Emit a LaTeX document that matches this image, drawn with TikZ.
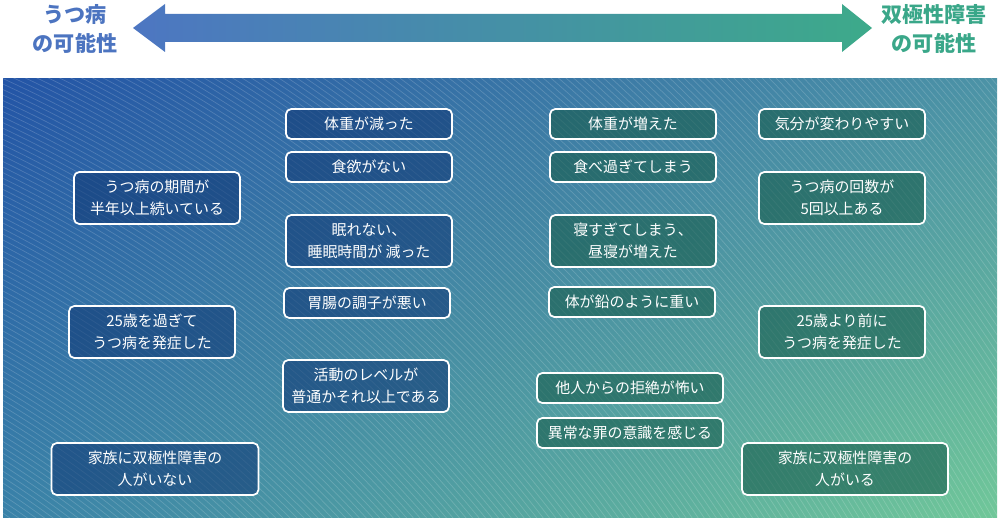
\documentclass[tikz,border=0pt]{standalone}
\usepackage{fontspec}
\newfontfamily\jp{Noto Sans CJK JP}
\usepackage{tikz}
\usetikzlibrary{calc,shadings}

\definecolor{deptext}{HTML}{4C74C0}
\definecolor{biptext}{HTML}{3AA789}
\definecolor{arrL}{HTML}{4D76C2}
\definecolor{arrR}{HTML}{3DAA8A}
\definecolor{panUL}{HTML}{2354A6}
\definecolor{panUR}{HTML}{4C93A6}
\definecolor{panLL}{HTML}{3A82A8}
\definecolor{panLR}{HTML}{70C799}
\definecolor{depfill}{HTML}{123B77}
\definecolor{bipfill}{HTML}{175C4C}

\begin{document}
\begin{tikzpicture}[x=0.02cm,y=-0.02cm,
  sym/.style={draw=white, line width=1pt, rounded corners=3pt, text=white,
    align=center, font=\jp\fontsize{8.5}{12.5}\selectfont,
    minimum width=3.32cm, minimum height=0.6cm,
    fill opacity=.6, text opacity=1, draw opacity=1},
  dep/.style={sym, fill=depfill},
  bip/.style={sym, fill=bipfill},
  tall/.style={minimum height=1.04cm},
  head/.style={align=center, font=\jp\bfseries\fontsize{12}{16}\selectfont}]
\useasboundingbox (0,0) rectangle (1000,520);

% background panel
\shade[upper left=panUL, upper right=panUR, lower left=panLL, lower right=panLR]
  (3,79) rectangle (997,517);
\begin{scope}
\clip (3,79) rectangle (997,517);
\foreach \r in {1080,1085,...,2095}
  \draw[white, opacity=.17, line width=.4pt] (-608,1416) circle[radius=\r];
\end{scope}

% headings and arrow
\node[head, text=deptext] (L) at (75,29) {うつ病\\の可能性};
\node[head, text=biptext] (R) at (934,29) {双極性障害\\の可能性};
\coordinate (lt) at (133,28);
\coordinate (rt) at (872,28);
\shade[left color=arrL, right color=arrR]
  (lt) -- ++(32,-24) -- ++(0,10) -- ($(rt)+(-30,-14)$) -- ++(0,-10) -- (rt)
  -- ++(-30,24) -- ++(0,-10) -- ($(lt)+(32,14)$) -- ++(0,10) -- cycle;

% depression side
\node[dep,tall] (D1) at (157,198) {うつ病の期間が\\半年以上続いている};
\node[dep,tall] (D2) at (152,332) {25歳を過ぎて\\うつ病を発症した};
\node[dep,tall,minimum width=4.14cm] (D3) at (155,469) {家族に双極性障害の\\人がいない};
\node[dep] (D4) at (369,124) {体重が減った};
\node[dep] (D5) at (369,167) {食欲がない};
\node[dep,tall] (D6) at (369,241) {眠れない、\\睡眠時間が 減った};
\node[dep] (D7) at (367,303) {胃腸の調子が悪い};
\node[dep,tall] (D8) at (366,386) {活動のレベルが\\普通かそれ以上である};

% bipolar side
\node[bip] (B1) at (633,124) {体重が増えた};
\node[bip] (B2) at (633,167) {食べ過ぎてしまう};
\node[bip,tall] (B3) at (633,241) {寝すぎてしまう、\\昼寝が増えた};
\node[bip] (B4) at (632,302) {体が鉛のように重い};
\node[bip,minimum width=3.72cm] (B5) at (630,388) {他人からの拒絶が怖い};
\node[bip,minimum width=3.72cm] (B6) at (630,433) {異常な罪の意識を感じる};
\node[bip] (B7) at (842,124) {気分が変わりやすい};
\node[bip,tall] (B8) at (842,198) {うつ病の回数が\\5回以上ある};
\node[bip,tall] (B9) at (842,332) {25歳より前に\\うつ病を発症した};
\node[bip,tall,minimum width=4.12cm] (B10) at (845,469) {家族に双極性障害の\\人がいる};
\end{tikzpicture}
\end{document}
